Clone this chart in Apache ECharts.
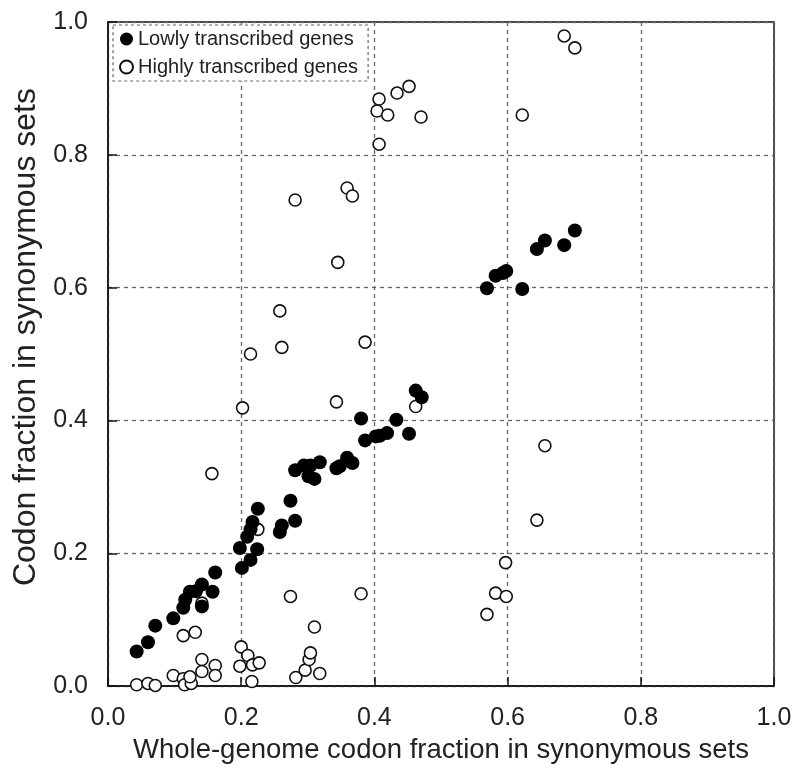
<!DOCTYPE html>
<html>
<head>
<meta charset="utf-8">
<script src="https://cdn.jsdelivr.net/npm/echarts@6/dist/echarts.min.js"></script>
<style>html,body{margin:0;padding:0;background:#fff;}#c{width:797px;height:769px;}</style>
</head>
<body>
<div id="c"></div>
<script>
// Lowly transcribed genes: [whole-genome fraction, codon fraction]
const lowlyX = [0.043,0.060,0.071,0.098,0.113,0.116,0.123,0.132,0.141,0.141,0.157,0.161,0.198,0.201,0.214,0.224,0.209,0.214,0.217,0.225,0.258,0.261,0.274,0.281,0.281,0.294,0.304,0.301,0.310,0.318,0.343,0.348,0.359,0.367,0.380,0.386,0.402,0.408,0.419,0.433,0.452,0.462,0.471,0.569,0.582,0.593,0.598,0.622,0.644,0.656,0.685,0.701];
const lowlyY = [0.052,0.066,0.091,0.102,0.118,0.130,0.142,0.143,0.153,0.120,0.142,0.171,0.208,0.178,0.190,0.206,0.225,0.236,0.247,0.267,0.232,0.242,0.279,0.249,0.325,0.332,0.332,0.316,0.312,0.337,0.328,0.331,0.344,0.336,0.403,0.370,0.376,0.377,0.381,0.401,0.380,0.445,0.435,0.599,0.618,0.622,0.625,0.598,0.658,0.671,0.664,0.686];
// Highly transcribed genes
const highlyX = [0.043,0.060,0.071,0.098,0.113,0.115,0.125,0.123,0.113,0.131,0.141,0.141,0.161,0.161,0.141,0.156,0.200,0.210,0.198,0.217,0.227,0.216,0.202,0.214,0.225,0.258,0.261,0.274,0.281,0.282,0.296,0.302,0.304,0.310,0.318,0.343,0.345,0.359,0.367,0.380,0.386,0.404,0.407,0.407,0.420,0.434,0.452,0.462,0.470,0.569,0.582,0.598,0.597,0.622,0.644,0.656,0.685,0.701];
const highlyY = [0.002,0.004,0.001,0.016,0.011,0.002,0.004,0.014,0.076,0.081,0.040,0.022,0.031,0.016,0.125,0.320,0.059,0.046,0.030,0.032,0.035,0.007,0.419,0.500,0.236,0.565,0.510,0.135,0.732,0.013,0.024,0.040,0.050,0.089,0.019,0.428,0.638,0.750,0.738,0.139,0.518,0.866,0.884,0.816,0.860,0.893,0.903,0.421,0.857,0.108,0.140,0.135,0.186,0.860,0.250,0.362,0.979,0.961];
const tickLabels = ['0.0','0.2','0.4','0.6','0.8','1.0'];
const seriesNames = ['Lowly transcribed genes','Highly transcribed genes'];
const xTitle = 'Whole-genome codon fraction in synonymous sets';
const yTitle = 'Codon fraction in synonymous sets';

const pair = (xs, ys) => xs.map((x, i) => [x, ys[i]]);
const FONT = '"Liberation Sans Narrow", "Liberation Sans", Arial, sans-serif';
const chart = echarts.init(document.getElementById('c'), null, {renderer: 'canvas'});
const axisCommon = {
  min: 0, max: 1, interval: 0.2,
  axisLine: {show: true, lineStyle: {color: '#111', width: 1.5}},
  axisTick: {show: true, inside: true, length: 9, lineStyle: {color: '#111', width: 1.5}},
  axisLabel: {color: '#222', fontSize: 25, fontFamily: FONT, formatter: v => tickLabels[Math.round(v / 0.2)]},
  splitLine: {show: true, lineStyle: {color: '#666', width: 1.3, type: [4, 4]}},
  nameLocation: 'middle'
};
chart.setOption({
  animation: false,
  backgroundColor: '#fff',
  grid: {left: 108, right: 23, top: 22, bottom: 82, show: true, borderColor: '#111', borderWidth: 1.5, backgroundColor: 'transparent'},
  xAxis: Object.assign({}, axisCommon, {type: 'value', name: xTitle, nameGap: 48,
    nameTextStyle: {color: '#222', fontSize: 27.5, fontFamily: FONT},
    axisLabel: Object.assign({}, axisCommon.axisLabel, {margin: 20})}),
  yAxis: Object.assign({}, axisCommon, {type: 'value', name: yTitle, nameGap: 58,
    nameTextStyle: {color: '#222', fontSize: 32, fontFamily: FONT, padding: [0, 0, 0, 34]},
    axisLabel: Object.assign({}, axisCommon.axisLabel, {margin: 20})}),
  legend: {
    orient: 'vertical', left: 113, top: 25,
    data: seriesNames,
    itemWidth: 13, itemHeight: 13, itemGap: 8,
    padding: [4, 10, 4, 6],
    borderColor: '#666', borderWidth: 1.2, borderType: [3, 3],
    backgroundColor: '#fff',
    textStyle: {color: '#222', fontSize: 20, fontFamily: FONT}
  },
  series: [
    {name: seriesNames[0], type: 'scatter', data: pair(lowlyX, lowlyY), symbol: 'circle', symbolSize: 14,
     itemStyle: {color: '#000', borderColor: '#000', borderWidth: 0, opacity: 1}, z: 3},
    {name: seriesNames[1], type: 'scatter', data: pair(highlyX, highlyY), symbol: 'circle', symbolSize: 12,
     itemStyle: {color: '#fff', borderColor: '#111', borderWidth: 1.6, opacity: 1}, z: 2}
  ]
});
</script>
</body>
</html>
